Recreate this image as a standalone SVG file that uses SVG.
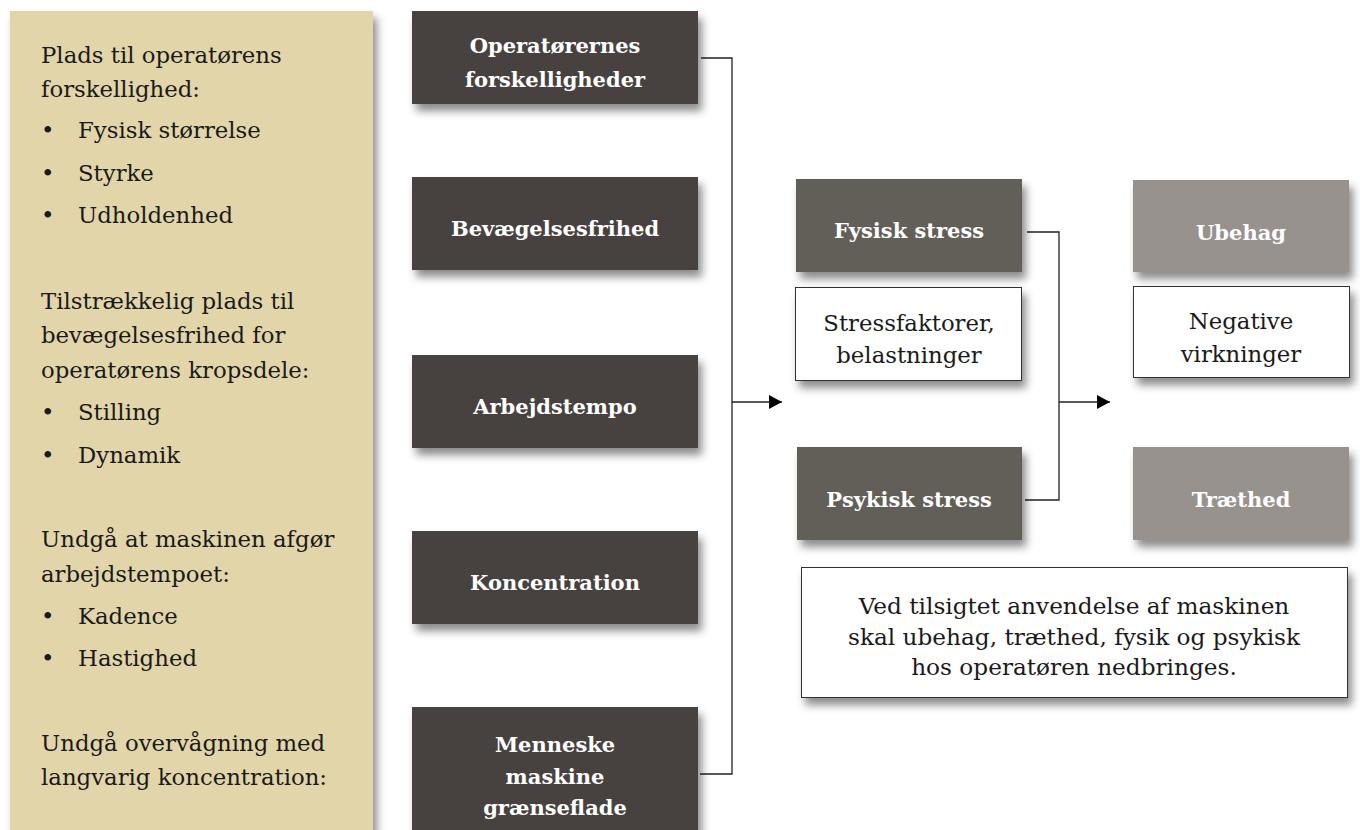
<svg xmlns="http://www.w3.org/2000/svg" width="1360" height="830" viewBox="0 0 1360 830">
<style>
.panel{fill:#e2d5aa}
.dark{fill:#46433f}
.mid{fill:#625e59}
.light{fill:#97928e}
.white{fill:#ffffff;stroke:#333333;stroke-width:1}
.lt{font-family:"DejaVu Serif","Liberation Serif",serif;font-size:22.8px;fill:#1a1a1a}
.bt{font-family:"DejaVu Serif","Liberation Serif",serif;font-size:21px;font-weight:bold;fill:#ffffff;text-anchor:middle}
.wt{font-family:"DejaVu Serif","Liberation Serif",serif;font-size:22.8px;fill:#1a1a1a;text-anchor:middle}
.nt{font-size:23.2px}
.conn{fill:none;stroke:#222222;stroke-width:1.3}
</style>
<defs>
<filter id="sh" x="-10%" y="-10%" width="130%" height="140%">
<feDropShadow dx="4" dy="7" stdDeviation="4.5" flood-color="#000" flood-opacity="0.45"/>
</filter>
<marker id="arr" markerWidth="14" markerHeight="14" refX="13" refY="7" orient="auto" markerUnits="userSpaceOnUse">
<path d="M0,0 L13,7 L0,14 Z" fill="#000"/>
</marker>
</defs>
<rect width="1360" height="830" fill="#ffffff"/>

<g id="panel">
<rect class="panel" x="10" y="11" width="363" height="840" filter="url(#sh)"/>
<text class="lt" x="41" y="63">Plads til operatørens</text>
<text class="lt" x="41" y="97">forskellighed:</text>
<text class="lt" x="41" y="138">•</text><text class="lt" x="78" y="138">Fysisk størrelse</text>
<text class="lt" x="41" y="181">•</text><text class="lt" x="78" y="181">Styrke</text>
<text class="lt" x="41" y="223">•</text><text class="lt" x="78" y="223">Udholdenhed</text>
<text class="lt" x="41" y="309">Tilstrækkelig plads til</text>
<text class="lt" x="41" y="343">bevægelsesfrihed for</text>
<text class="lt" x="41" y="378">operatørens kropsdele:</text>
<text class="lt" x="41" y="420">•</text><text class="lt" x="78" y="420">Stilling</text>
<text class="lt" x="41" y="463">•</text><text class="lt" x="78" y="463">Dynamik</text>
<text class="lt" x="41" y="547">Undgå at maskinen afgør</text>
<text class="lt" x="41" y="582">arbejdstempoet:</text>
<text class="lt" x="41" y="624">•</text><text class="lt" x="78" y="624">Kadence</text>
<text class="lt" x="41" y="666">•</text><text class="lt" x="78" y="666">Hastighed</text>
<text class="lt" x="41" y="751">Undgå overvågning med</text>
<text class="lt" x="41" y="785">langvarig koncentration:</text>
</g>

<g id="connectors">
<path class="conn" d="M701,58 H732 V774 H700"/>
<path class="conn" d="M732,402 H782" marker-end="url(#arr)"/>
<path class="conn" d="M1027,232 H1059 V500 H1025"/>
<path class="conn" d="M1059,402 H1110" marker-end="url(#arr)"/>
</g>

<g id="n-operatoerernes">
<rect class="dark" x="412" y="11" width="286" height="93" filter="url(#sh)"/>
<text class="bt" x="555" y="53">Operatørernes</text>
<text class="bt" x="555" y="87">forskelligheder</text>
</g>
<g id="n-bevaegelse">
<rect class="dark" x="412" y="177" width="286" height="93" filter="url(#sh)"/>
<text class="bt" x="555" y="236">Bevægelsesfrihed</text>
</g>
<g id="n-arbejdstempo">
<rect class="dark" x="412" y="355" width="286" height="93" filter="url(#sh)"/>
<text class="bt" x="555" y="414">Arbejdstempo</text>
</g>
<g id="n-koncentration">
<rect class="dark" x="412" y="531" width="286" height="93" filter="url(#sh)"/>
<text class="bt" x="555" y="590">Koncentration</text>
</g>
<g id="n-menneske">
<rect class="dark" x="412" y="707" width="286" height="140" filter="url(#sh)"/>
<text class="bt" x="555" y="752">Menneske</text>
<text class="bt" x="555" y="784">maskine</text>
<text class="bt" x="555" y="815">grænseflade</text>
</g>

<g id="n-fysisk">
<rect class="mid" x="796" y="179" width="226" height="93" filter="url(#sh)"/>
<text class="bt" x="909" y="238">Fysisk stress</text>
</g>
<g id="n-stressfaktorer">
<rect class="white" x="795.5" y="287.5" width="226" height="93" filter="url(#sh)"/>
<text class="wt" x="909" y="331">Stressfaktorer,</text>
<text class="wt" x="909" y="363">belastninger</text>
</g>
<g id="n-psykisk">
<rect class="mid" x="797" y="447" width="225" height="93" filter="url(#sh)"/>
<text class="bt" x="909" y="507">Psykisk stress</text>
</g>

<g id="n-ubehag">
<rect class="light" x="1133" y="180" width="216" height="92" filter="url(#sh)"/>
<text class="bt" x="1241" y="240">Ubehag</text>
</g>
<g id="n-negative">
<rect class="white" x="1133.5" y="286.5" width="216" height="91" filter="url(#sh)"/>
<text class="wt" x="1241" y="329">Negative</text>
<text class="wt" x="1241" y="362">virkninger</text>
</g>
<g id="n-traethed">
<rect class="light" x="1133" y="447" width="216" height="93" filter="url(#sh)"/>
<text class="bt" x="1241" y="507">Træthed</text>
</g>

<g id="n-note">
<rect class="white" x="801.5" y="567.5" width="546" height="130" filter="url(#sh)"/>
<text class="wt nt" x="1074" y="614">Ved tilsigtet anvendelse af maskinen</text>
<text class="wt nt" x="1074" y="645">skal ubehag, træthed, fysik og psykisk</text>
<text class="wt nt" x="1074" y="675">hos operatøren nedbringes.</text>
</g>
</svg>
